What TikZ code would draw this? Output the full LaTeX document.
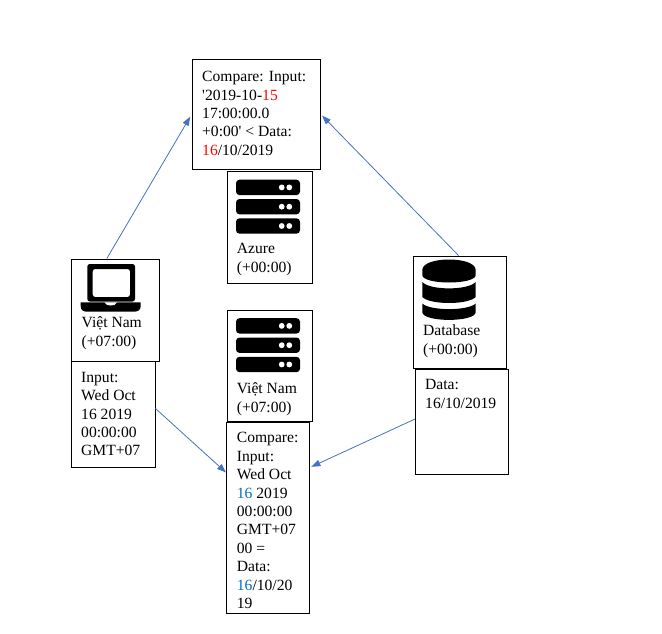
\documentclass[tikz,border=0pt]{standalone}
\usepackage{fontspec}
\setmainfont{Liberation Serif}
\newfontfamily\plainserif{Liberation Serif}
\usetikzlibrary{arrows.meta}
\definecolor{arrowblue}{HTML}{4472C4}
\definecolor{numred}{HTML}{FF0000}
\definecolor{numblue}{HTML}{0070C0}
\newcommand{\rd}[1]{\textcolor{numred}{#1}}
\newcommand{\bl}[1]{\textcolor{numblue}{#1}}
\newcommand{\fl}{\rule{0pt}{12pt}}
\newcommand{\sq}{{\plainserif'}}
\tikzset{
  x=1pt,y=-1pt,
  boxnode/.style={draw=black,line width=1pt,fill=white,inner sep=0pt,minimum width=#1},
  boxh/.style={minimum height=#1},
  txt/.style={anchor=north west,align=left,inner sep=0pt,font=\fontsize{15.6}{18.4}\selectfont},
  link/.style={draw=arrowblue,line width=0.8pt,-{Triangle[length=9pt,width=6.5pt]}},
  pics/serverbars/.style={code={
    \foreach \yy in {0,19.3,38.6}{
      \fill[black,rounded corners=3.5pt] (0,\yy) rectangle (64,\yy+15.4);
      \fill[white] (45.7,\yy+7.7) circle (2.9) (53.3,\yy+7.7) circle (2.9);
    }
  }},
  pics/laptopicon/.style={code={
    \fill[black,rounded corners=2.5pt,even odd rule] (87.3,264) rectangle (135,301.5)
       (92.7,269) rectangle (130,297);
    \fill[black] (80.7,302.3) -- (140.7,302.3) -- (140.7,306) .. controls (140.7,310) and (138,311.7) .. (134,311.7)
       -- (87,311.7) .. controls (83,311.7) and (80.7,310) .. (80.7,306) -- cycle;
    \fill[white] (104.5,302.3) .. controls (106,305) and (108,305.5) .. (110.7,305.5)
       .. controls (113.5,305.5) and (115.5,305) .. (117,302.3) -- cycle;
  }},
  pics/dbicon/.style={code={
    \fill[black] (422.3,270) .. controls (422.3,256) and (475.7,256) .. (475.7,270)
       -- (475.7,275) .. controls (475.7,285) and (422.3,285) .. (422.3,275) -- cycle;
    \fill[black] (422.3,282) .. controls (430,290.5) and (468,290.5) .. (475.7,282)
       -- (475.7,297) .. controls (468,305) and (430,305) .. (422.3,297) -- cycle;
    \fill[black] (422.3,303.5) .. controls (430,311) and (468,311) .. (475.7,303.5)
       -- (475.7,312) .. controls (475.7,322.5) and (422.3,322.5) .. (422.3,312) -- cycle;
  }}
}
\begin{document}
\begin{tikzpicture}
\useasboundingbox (0,0) rectangle (662,634);
% boxes (lower ones first, as stacked in the reference)
\node[boxnode=128.5pt,boxh=109pt] (top) at (256.25,114.5) {};
\node[boxnode=85pt,boxh=112pt] (azure) at (269.5,227) {};
\node[boxnode=84pt,boxh=106pt] (input) at (113,414.5) {};
\node[boxnode=88pt,boxh=102pt] (laptop) at (115,310) {};
\node[boxnode=83pt,boxh=191pt] (cmp) at (268,517.5) {};
\node[boxnode=85pt,boxh=111pt] (vnsrv) at (269.5,365.5) {};
\node[boxnode=93pt,boxh=105pt] (data) at (462,421.5) {};
\node[boxnode=93pt,boxh=112pt] (db) at (459.5,312) {};
% icons
\pic at (236,179.7) {serverbars};
\pic at (236,318.2) {serverbars};
\pic at (0,0) {laptopicon};
\pic at (0,0) {dbicon};
% texts
\node[txt] (ttop) at (202,69.5) {\fl Compare: Input:\\\sq 2019-10-\rd{15}\\17:00:00.0\\+0:00\sq{} < Data:\\\rd{16}/10/2019};
\node[txt] (tazure) at (236.7,241.5) {\fl Azure\\(+00:00)};
\node[txt] (tlaptop) at (81.5,315.7) {\fl Việt Nam\\(+07:00)};
\node[txt] (tinput) at (81,370) {\fl Input:\\Wed Oct\\16 2019\\00:00:00\\GMT+07};
\node[txt] (tvnsrv) at (236.7,381.5) {\fl Việt Nam\\(+07:00)};
\node[txt] (tcmp) at (236.7,430.7) {\fl Compare:\\Input:\\Wed Oct\\\bl{16} 2019\\00:00:00\\GMT+07\\00 =\\Data:\\\bl{16}/10/20\\19};
\node[txt] (tdb) at (423,323.5) {\fl Database\\(+00:00)};
\node[txt] (tdata) at (425,377.5) {\fl Data:\\16/10/2019};
% connectors
\draw[link,shorten >=2.5pt] (laptop.99) -- (top.west);
\draw[link,shorten >=1.5pt] (db.91.5) -- (top.east);
\draw[link] (input.8) -- (cmp.133.6);
\draw[link,shorten >=1.5pt] (data.177) -- (cmp.50.6);
\end{tikzpicture}
\end{document}
